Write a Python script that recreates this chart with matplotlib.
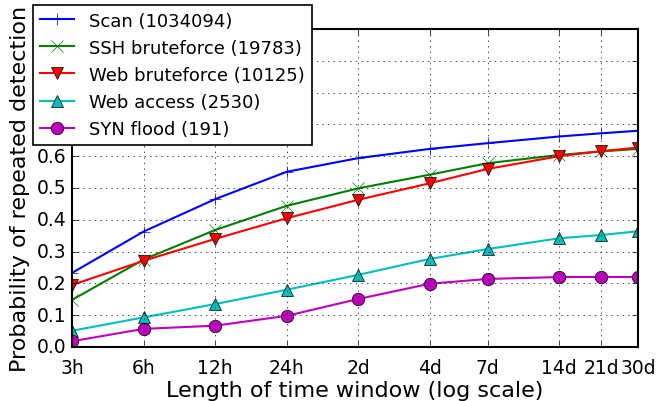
import numpy as np
import matplotlib
matplotlib.use("Agg")
import matplotlib.pyplot as plt

# Time windows in hours (log scale on x)
windows = [3, 6, 12, 24, 48, 96, 168, 336, 504, 720]
window_labels = ["3h", "6h", "12h", "24h", "2d", "4d", "7d", "14d", "21d", "30d"]

scan = [0.233, 0.363, 0.465, 0.551, 0.594, 0.623, 0.641, 0.662, 0.672, 0.680]
ssh_brute = [0.148, 0.275, 0.368, 0.444, 0.499, 0.542, 0.578, 0.604, 0.615, 0.623]
web_brute = [0.195, 0.271, 0.340, 0.405, 0.463, 0.515, 0.560, 0.600, 0.616, 0.627]
web_access = [0.051, 0.093, 0.135, 0.180, 0.227, 0.277, 0.308, 0.342, 0.352, 0.364]
syn_flood = [0.018, 0.057, 0.067, 0.098, 0.151, 0.199, 0.214, 0.220, 0.220, 0.220]

series_labels = ["Scan (1034094)", "SSH bruteforce (19783)", "Web bruteforce (10125)",
                 "Web access (2530)", "SYN flood (191)"]

plt.style.use("classic")
plt.rcParams["font.family"] = "DejaVu Sans"

fig = plt.figure(figsize=(6.57, 4.02), dpi=100, facecolor="white")
ax = fig.add_axes([72/657, 54/402, 566/657, 318/402])

ms = 9
lw = 1.5
ax.plot(windows, scan, "b-+", markersize=ms, linewidth=lw, label=series_labels[0])
ax.plot(windows, ssh_brute, "g-x", markersize=ms, linewidth=lw, label=series_labels[1])
ax.plot(windows, web_brute, "r-v", markersize=ms, linewidth=lw, label=series_labels[2])
ax.plot(windows, web_access, "c-^", markersize=ms, linewidth=lw, label=series_labels[3])
ax.plot(windows, syn_flood, "m-o", markersize=ms, linewidth=lw, label=series_labels[4])

ax.set_xscale("log")
ax.set_xlim(3, 720)
ax.set_ylim(0, 1.0)
ax.set_xticks(windows)
ax.set_xticklabels(window_labels)
ax.xaxis.set_minor_locator(matplotlib.ticker.NullLocator())
ax.set_yticks(np.arange(0, 1.01, 0.1))
ax.yaxis.set_major_formatter(matplotlib.ticker.FormatStrFormatter("%.1f"))
ax.tick_params(labelsize=13.5)
ax.tick_params(axis="x", pad=8)
for sp in ax.spines.values():
    sp.set_linewidth(1.5)
ax.grid(True)

ax.set_xlabel("Length of time window (log scale)", fontsize=16, labelpad=2)
ax.set_ylabel("Probability of repeated detection", fontsize=16)

leg = ax.legend(loc="upper left", bbox_to_anchor=(-0.069, 1.077), borderaxespad=0,
                fontsize=13, numpoints=1, fancybox=False, framealpha=1,
                handlelength=1.9)
leg.get_frame().set_linewidth(1.2)
leg.set_zorder(10)

fig.savefig("out.png", dpi=100, facecolor="white")
